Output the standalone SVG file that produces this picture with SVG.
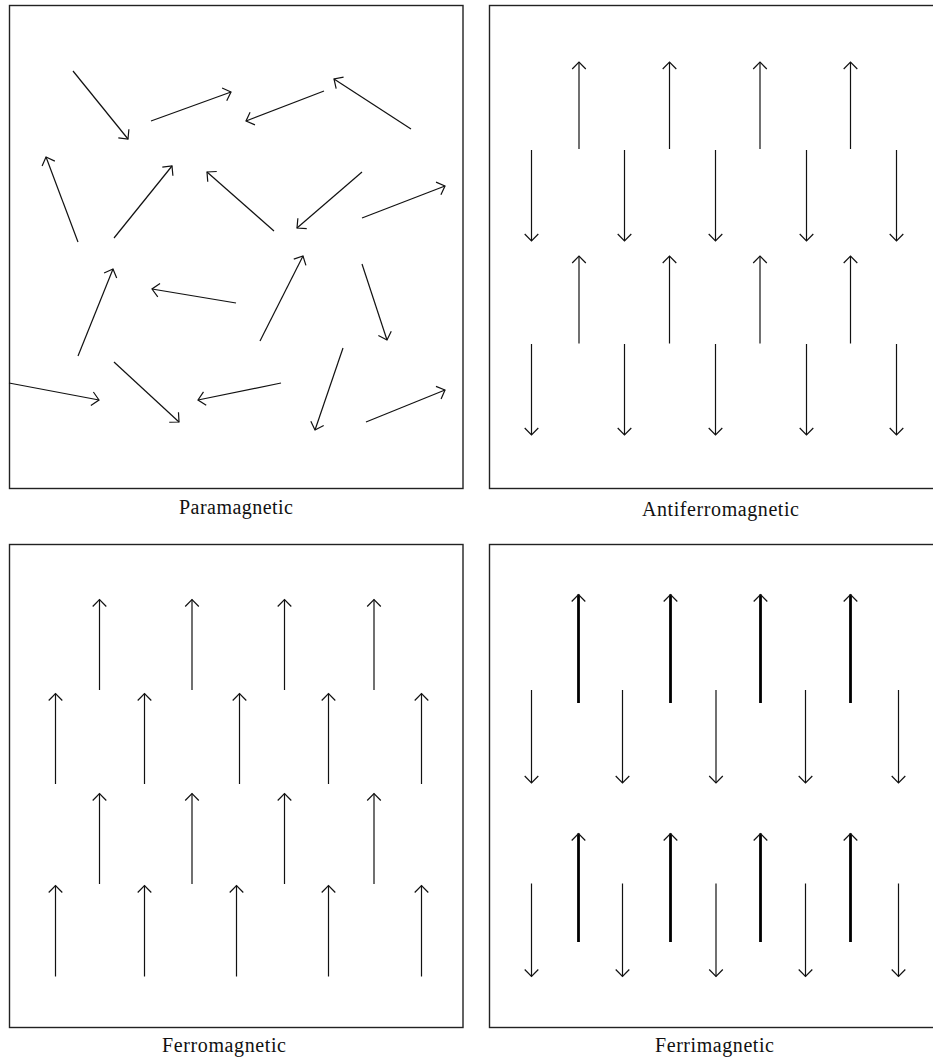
<svg xmlns="http://www.w3.org/2000/svg" width="933" height="1060" viewBox="0 0 933 1060">
<style>
.frame{fill:none;stroke:#222;stroke-width:1.4}
.a{stroke:#111;stroke-width:1.2;fill:none;marker-end:url(#head)}
.t{stroke:#000;stroke-width:2.8;fill:none;marker-end:url(#head)}
.lbl{font-family:"Liberation Serif","Times New Roman",serif;font-size:20px;fill:#111;text-anchor:middle}
</style>
<defs>
<marker id="head" markerUnits="userSpaceOnUse" orient="auto" refX="0" refY="0" markerWidth="20" markerHeight="20" viewBox="-10 -10 20 20" overflow="visible">
<path d="M-7,-6.8 L0,0 L-7,6.8" fill="none" stroke="#111" stroke-width="1.2"/>
</marker>
</defs>
<rect width="933" height="1060" fill="#fff"/>

<g id="paramagnetic">
<rect class="frame" x="9.5" y="5.5" width="453.5" height="483"/>
<g id="para-arrows">
<line class="a" x1="73" y1="71" x2="128" y2="139"/>
<line class="a" x1="151" y1="121" x2="231" y2="92"/>
<line class="a" x1="324" y1="91" x2="246" y2="121"/>
<line class="a" x1="411" y1="129" x2="334" y2="79"/>
<line class="a" x1="78" y1="242" x2="46" y2="157"/>
<line class="a" x1="114" y1="238" x2="172" y2="166"/>
<line class="a" x1="274" y1="231" x2="207" y2="172"/>
<line class="a" x1="362" y1="172" x2="297" y2="228"/>
<line class="a" x1="362" y1="218" x2="445" y2="186"/>
<line class="a" x1="78" y1="356" x2="113" y2="269"/>
<line class="a" x1="236" y1="303" x2="152" y2="289"/>
<line class="a" x1="260" y1="341" x2="303" y2="256"/>
<line class="a" x1="362" y1="264" x2="387" y2="340"/>
<line class="a" x1="9" y1="383" x2="99" y2="400"/>
<line class="a" x1="114" y1="362" x2="179" y2="422"/>
<line class="a" x1="281" y1="383" x2="198" y2="400"/>
<line class="a" x1="343" y1="348" x2="315" y2="430"/>
<line class="a" x1="366" y1="422" x2="445" y2="390"/>
</g>
<text class="lbl" x="236" y="514" textLength="114" lengthAdjust="spacing">Paramagnetic</text>
</g>

<g id="antiferromagnetic">
<rect class="frame" x="489.5" y="5.5" width="460" height="483"/>
<g id="antiferro-arrows">
<line class="a" x1="579" y1="149" x2="579" y2="62"/>
<line class="a" x1="669.5" y1="149" x2="669.5" y2="62"/>
<line class="a" x1="760" y1="149" x2="760" y2="62"/>
<line class="a" x1="850.5" y1="149" x2="850.5" y2="62"/>
<line class="a" x1="531.5" y1="150" x2="531.5" y2="241"/>
<line class="a" x1="624.5" y1="150" x2="624.5" y2="241"/>
<line class="a" x1="715.5" y1="150" x2="715.5" y2="241"/>
<line class="a" x1="806.5" y1="150" x2="806.5" y2="241"/>
<line class="a" x1="896.5" y1="150" x2="896.5" y2="241"/>
<line class="a" x1="579" y1="343.5" x2="579" y2="256"/>
<line class="a" x1="669.5" y1="343.5" x2="669.5" y2="256"/>
<line class="a" x1="760" y1="343.5" x2="760" y2="256"/>
<line class="a" x1="850.5" y1="343.5" x2="850.5" y2="256"/>
<line class="a" x1="531.5" y1="344" x2="531.5" y2="435"/>
<line class="a" x1="624.5" y1="344" x2="624.5" y2="435"/>
<line class="a" x1="715.5" y1="344" x2="715.5" y2="435"/>
<line class="a" x1="806.5" y1="344" x2="806.5" y2="435"/>
<line class="a" x1="896.5" y1="344" x2="896.5" y2="435"/>
</g>
<text class="lbl" x="720.5" y="516" textLength="157" lengthAdjust="spacing">Antiferromagnetic</text>
</g>

<g id="ferromagnetic">
<rect class="frame" x="9.5" y="544.5" width="453.5" height="483"/>
<g id="ferro-arrows">
<line class="a" x1="99.5" y1="690" x2="99.5" y2="599.5"/>
<line class="a" x1="192" y1="690" x2="192" y2="599.5"/>
<line class="a" x1="284.5" y1="690" x2="284.5" y2="599.5"/>
<line class="a" x1="374" y1="690" x2="374" y2="599.5"/>
<line class="a" x1="55.5" y1="784" x2="55.5" y2="693.5"/>
<line class="a" x1="144.5" y1="784" x2="144.5" y2="693.5"/>
<line class="a" x1="239.5" y1="784" x2="239.5" y2="693.5"/>
<line class="a" x1="328.5" y1="784" x2="328.5" y2="693.5"/>
<line class="a" x1="421.5" y1="784" x2="421.5" y2="693.5"/>
<line class="a" x1="99.5" y1="884" x2="99.5" y2="793.5"/>
<line class="a" x1="192" y1="884" x2="192" y2="793.5"/>
<line class="a" x1="284.5" y1="884" x2="284.5" y2="793.5"/>
<line class="a" x1="374" y1="884" x2="374" y2="793.5"/>
<line class="a" x1="55.5" y1="976.5" x2="55.5" y2="885.5"/>
<line class="a" x1="144.5" y1="976.5" x2="144.5" y2="885.5"/>
<line class="a" x1="236.5" y1="976.5" x2="236.5" y2="885.5"/>
<line class="a" x1="328.5" y1="976.5" x2="328.5" y2="885.5"/>
<line class="a" x1="421.5" y1="976.5" x2="421.5" y2="885.5"/>
</g>
<text class="lbl" x="224" y="1051.5" textLength="124" lengthAdjust="spacing">Ferromagnetic</text>
</g>

<g id="ferrimagnetic">
<rect class="frame" x="489.5" y="544.5" width="460" height="483"/>
<g id="ferri-arrows">
<line class="t" x1="578.5" y1="703" x2="578.5" y2="594.5"/>
<line class="t" x1="670.5" y1="703" x2="670.5" y2="594.5"/>
<line class="t" x1="760.5" y1="703" x2="760.5" y2="594.5"/>
<line class="t" x1="850.5" y1="703" x2="850.5" y2="594.5"/>
<line class="a" x1="531.5" y1="690" x2="531.5" y2="783"/>
<line class="a" x1="622.5" y1="690" x2="622.5" y2="783"/>
<line class="a" x1="716" y1="690" x2="716" y2="783"/>
<line class="a" x1="805.5" y1="690" x2="805.5" y2="783"/>
<line class="a" x1="898.5" y1="690" x2="898.5" y2="783"/>
<line class="t" x1="578.5" y1="942" x2="578.5" y2="833.5"/>
<line class="t" x1="670.5" y1="942" x2="670.5" y2="833.5"/>
<line class="t" x1="760.5" y1="942" x2="760.5" y2="833.5"/>
<line class="t" x1="850.5" y1="942" x2="850.5" y2="833.5"/>
<line class="a" x1="531.5" y1="883.5" x2="531.5" y2="976.5"/>
<line class="a" x1="622.5" y1="883.5" x2="622.5" y2="976.5"/>
<line class="a" x1="716" y1="883.5" x2="716" y2="976.5"/>
<line class="a" x1="805.5" y1="883.5" x2="805.5" y2="976.5"/>
<line class="a" x1="898.5" y1="883.5" x2="898.5" y2="976.5"/>
</g>
<text class="lbl" x="714.5" y="1051.5" textLength="119" lengthAdjust="spacing">Ferrimagnetic</text>
</g>
</svg>
